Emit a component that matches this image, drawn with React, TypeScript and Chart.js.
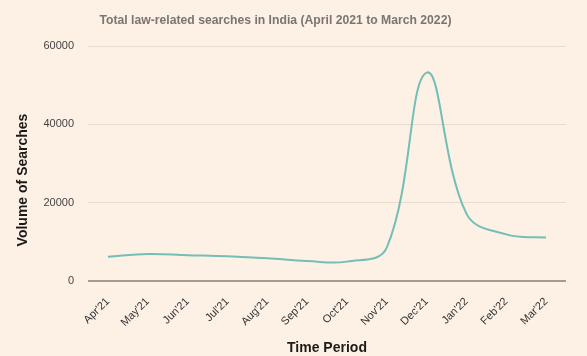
import React, { useEffect, useRef } from 'react';
import { Chart, registerables } from 'chart.js';

Chart.register(...registerables);

const months = ["Apr'21", "May'21", "Jun'21", "Jul'21", "Aug'21", "Sep'21", "Oct'21", "Nov'21", "Dec'21", "Jan'22", "Feb'22", "Mar'22"];
const searches = [6200, 6900, 6600, 6300, 5800, 5100, 4950, 8500, 53200, 17200, 11900, 11100];
const yMin = 0;
const yMax = 60000;
const yStep = 20000;
const chartTitle = 'Total law-related searches in India (April 2021 to March 2022)';
const yTitle = 'Volume of Searches';
const xTitle = 'Time Period';

const FONT = '"Liberation Sans", Arial, sans-serif';
const BG = '#fdf1e6';

const textPlugin = {
  id: 'textPlugin',
  afterDraw(chart: any) {
    const { ctx, chartArea } = chart;
    ctx.save();
    ctx.textBaseline = 'middle';
    ctx.textAlign = 'center';
    ctx.fillStyle = '#7a7570';
    ctx.font = `bold 12.2px ${FONT}`;
    ctx.fillText(chartTitle, 275.5, 21);
    ctx.fillStyle = '#1c1a18';
    ctx.font = `bold 14px ${FONT}`;
    ctx.fillText(xTitle, (chartArea.left + chartArea.right) / 2, 348);
    ctx.translate(23, 180);
    ctx.rotate(-Math.PI / 2);
    ctx.fillText(yTitle, 0, 0);
    ctx.restore();
  },
};

export default function App() {
  const ref = useRef<HTMLCanvasElement>(null);
  useEffect(() => {
    document.body.style.margin = '0';
    document.body.style.background = BG;
    const chart = new Chart(ref.current as HTMLCanvasElement, {
      type: 'line',
      data: {
        labels: months,
        datasets: [
          {
            data: searches,
            borderColor: '#74beb5',
            borderWidth: 2,
            pointRadius: 0,
            tension: 0.4,
            fill: false,
          },
        ],
      },
      options: {
        animation: false,
        responsive: false,
        layout: { padding: { top: 46, right: 21, bottom: 0, left: 0 } },
        plugins: { legend: { display: false }, title: { display: false }, tooltip: { enabled: false } },
        scales: {
          x: {
            offset: true,
            grid: { display: false },
            border: { display: false },
            ticks: {
              minRotation: 45,
              maxRotation: 45,
              padding: 6,
              color: '#333',
              font: { family: FONT, size: 11 },
            },
            afterFit: (s: any) => { s.height = 75; },
          },
          y: {
            min: yMin,
            max: yMax,
            border: { display: false },
            grid: {
              drawTicks: false,
              color: (c: any) => (c.tick && c.tick.value === 0 ? '#a79b91' : '#e8dcd1'),
              lineWidth: (c: any) => (c.tick && c.tick.value === 0 ? 2 : 1),
            },
            ticks: {
              stepSize: yStep,
              padding: 14,
              color: '#444',
              font: { family: FONT, size: 11 },
              callback: (v: any) => String(v),
            },
            afterFit: (s: any) => { s.width = 88; },
          },
        },
      },
      plugins: [textPlugin],
    });
    return () => chart.destroy();
  }, []);
  return (
    <div style={{ position: 'fixed', left: 0, top: 0, width: 587, height: 356, background: BG }}>
      <canvas ref={ref} width={587} height={356} />
    </div>
  );
}
